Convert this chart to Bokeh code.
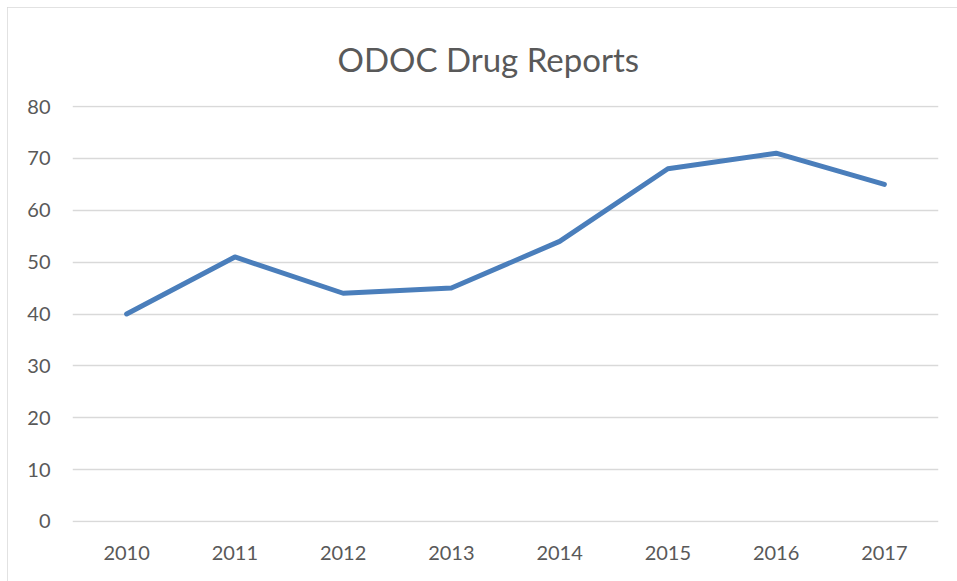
from bokeh.plotting import figure
from bokeh.models import Range1d, FixedTicker
from bokeh.embed import file_html
from bokeh.resources import INLINE

years = ["2010", "2011", "2012", "2013", "2014", "2015", "2016", "2017"]
reports = [40, 51, 44, 45, 54, 68, 71, 65]
y_ticks = [0, 10, 20, 30, 40, 50, 60, 70, 80]

FONT = "Lato"
GRAY = "#595959"

p = figure(x_range=years, y_range=Range1d(-0.2, 80.2), width=950, height=574,
           output_backend="svg", toolbar_location=None,
           min_border_left=65, min_border_right=19, min_border_top=98, min_border_bottom=59)

p.title.text = "ODOC Drug Reports"
p.title.align = "left"
p.title.offset = 265
p.title.standoff = 54
p.title.text_font = FONT
p.title.text_font_size = "33px"
p.title.text_font_style = "normal"
p.title.text_color = GRAY

p.line(x=years, y=reports, line_color="#4a7ebb", line_width=5,
       line_cap="round", line_join="round")

p.yaxis.ticker = FixedTicker(ticks=y_ticks)
for ax in (p.xaxis[0], p.yaxis[0]):
    ax.axis_line_color = None
    ax.major_tick_line_color = None
    ax.minor_tick_line_color = None
    ax.major_label_text_font = FONT
    ax.major_label_text_font_size = "20px"
    ax.major_label_text_color = GRAY
p.yaxis.major_label_standoff = 16
p.xaxis.major_label_standoff = 17

p.xgrid.grid_line_color = None
p.ygrid.grid_line_color = "#d9d9d9"
p.ygrid.grid_line_width = 1.5

p.outline_line_color = None
p.background_fill_color = "white"
p.border_fill_color = "white"
p.styles = {"outline": "1px solid #d9d9d9", "outline-offset": "-1px",
            "margin-left": "7px", "margin-top": "7px"}

open("out.html", "w").write(file_html(p, INLINE))
